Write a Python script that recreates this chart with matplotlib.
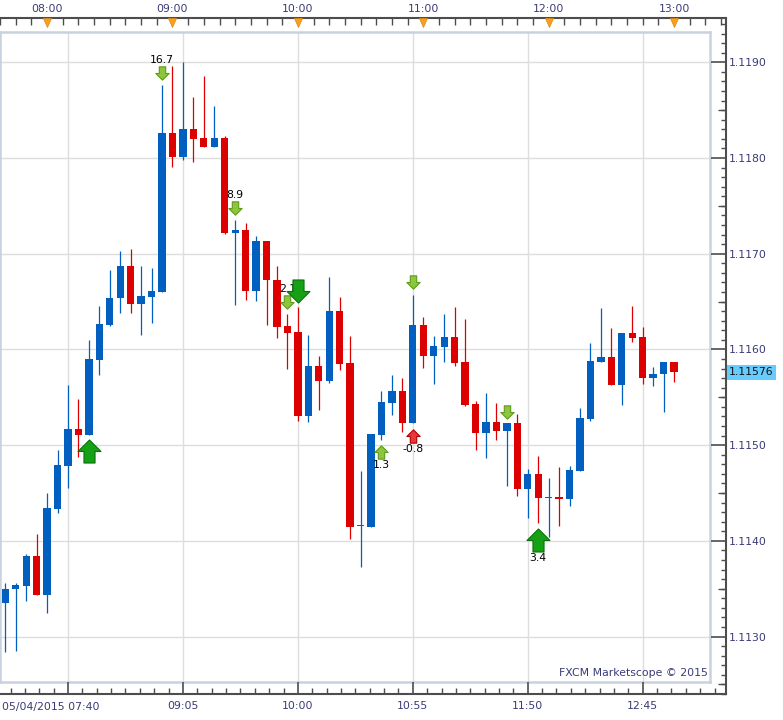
import numpy as np
import matplotlib.pyplot as plt
from matplotlib.path import Path

# EUR/USD 5 minute bars
opens = [1.11335, 1.11350, 1.11353, 1.11384, 1.11343, 1.11433, 1.11478, 1.11517, 1.11511, 1.11589,
         1.11626, 1.11654, 1.11687, 1.11648, 1.11655, 1.11660, 1.11826, 1.11801, 1.11830, 1.11821,
         1.11812, 1.11821, 1.11722, 1.11725, 1.11661, 1.11713, 1.11673, 1.11624, 1.11618, 1.11530,
         1.11583, 1.11567, 1.11640, 1.11586, 1.11415, 1.11414, 1.11511, 1.11544, 1.11557, 1.11523,
         1.11626, 1.11593, 1.11603, 1.11613, 1.11587, 1.11543, 1.11513, 1.11524, 1.11515, 1.11523,
         1.11454, 1.11470, 1.11445, 1.11446, 1.11444, 1.11473, 1.11527, 1.11587, 1.11592, 1.11563,
         1.11617, 1.11613, 1.11570, 1.11574, 1.11587]
highs = [1.11356, 1.11356, 1.11386, 1.11407, 1.11450, 1.11495, 1.11563, 1.11548, 1.11610, 1.11645,
         1.11683, 1.11703, 1.11705, 1.11687, 1.11685, 1.11876, 1.11896, 1.11900, 1.11864, 1.11886,
         1.11854, 1.11823, 1.11735, 1.11732, 1.11719, 1.11713, 1.11687, 1.11637, 1.11644, 1.11615,
         1.11593, 1.11676, 1.11655, 1.11614, 1.11473, 1.11512, 1.11557, 1.11573, 1.11570, 1.11657,
         1.11634, 1.11614, 1.11637, 1.11644, 1.11632, 1.11546, 1.11554, 1.11544, 1.11523, 1.11533,
         1.11475, 1.11489, 1.11466, 1.11477, 1.11478, 1.11539, 1.11607, 1.11643, 1.11622, 1.11617,
         1.11645, 1.11623, 1.11582, 1.11587, 1.11587]
lows = [1.11284, 1.11285, 1.11337, 1.11343, 1.11325, 1.11429, 1.11455, 1.11488, 1.11511, 1.11573,
        1.11624, 1.11638, 1.11638, 1.11615, 1.11628, 1.11660, 1.11791, 1.11798, 1.11796, 1.11812,
        1.11812, 1.11721, 1.11646, 1.11652, 1.11651, 1.11626, 1.11612, 1.11580, 1.11525, 1.11524,
        1.11537, 1.11565, 1.11578, 1.11402, 1.11373, 1.11414, 1.11505, 1.11532, 1.11514, 1.11523,
        1.11581, 1.11564, 1.11587, 1.11583, 1.11541, 1.11495, 1.11487, 1.11505, 1.11457, 1.11447,
        1.11424, 1.11419, 1.11404, 1.11416, 1.11436, 1.11473, 1.11525, 1.11587, 1.11563, 1.11542,
        1.11608, 1.11564, 1.11562, 1.11535, 1.11566]
closes = [1.11350, 1.11354, 1.11384, 1.11343, 1.11434, 1.11479, 1.11517, 1.11511, 1.11590, 1.11627,
          1.11654, 1.11687, 1.11648, 1.11656, 1.11661, 1.11826, 1.11801, 1.11830, 1.11820, 1.11812,
          1.11821, 1.11722, 1.11725, 1.11661, 1.11713, 1.11673, 1.11623, 1.11617, 1.11530, 1.11583,
          1.11567, 1.11640, 1.11585, 1.11414, 1.11416, 1.11512, 1.11545, 1.11557, 1.11523, 1.11626,
          1.11593, 1.11604, 1.11613, 1.11586, 1.11542, 1.11513, 1.11524, 1.11515, 1.11523, 1.11454,
          1.11470, 1.11445, 1.11446, 1.11444, 1.11474, 1.11528, 1.11588, 1.11592, 1.11563, 1.11617,
          1.11612, 1.11570, 1.11574, 1.11587, 1.11576]

bottom_idx = [6, 17, 28, 39, 50, 61]
bottom_labels = ["05/04/2015 07:40", "09:05", "10:00", "10:55", "11:50", "12:45"]
top_idx = [4, 16, 28, 40, 52, 64]
top_labels = ["08:00", "09:00", "10:00", "11:00", "12:00", "13:00"]
price_ticks = [1.1130, 1.1140, 1.1150, 1.1160, 1.1170, 1.1180, 1.1190]
last_price = 1.11576

# signal arrows: bar index, price, direction, size, label
sig_idx = [8, 15, 22, 27, 28, 36, 39, 39, 48, 51]
sig_price = [1.11494, 1.11889, 1.11748, 1.11650, 1.11661, 1.11493, 1.11670, 1.11510, 1.11535, 1.11401]
sig_dir = ["up", "down", "down", "down", "down", "up", "down", "up", "down", "up"]
sig_big = [True, False, False, False, True, False, False, False, False, True]
sig_red = [False, False, False, False, False, False, False, True, False, False]
sig_label = ["", "16.7", "8.9", "2.1", "", "1.3", "", "-0.8", "", "3.4"]

BLUE = "#005fbf"
RED = "#dd0000"
TXT = "#3a3a78"
AXC = "#4d4d4d"
FS = 7.8

W, H = 783, 720
fig = plt.figure(figsize=(W / 100, H / 100), dpi=100)

# inner chart area (pixels 0..710 x 32..682)
ax = fig.add_axes([0, 38 / H, 710 / W, 650 / H])
x0, x1 = -0.507, 67.44
y0, y1 = 1.112525, 1.119317
ax.set_xlim(x0, x1)
ax.set_ylim(y0, y1)
ax.set_xticks(bottom_idx)
ax.set_yticks(price_ticks)
ax.tick_params(length=0, labelbottom=False, labelleft=False)
ax.grid(True, color="#dddddd", lw=1)
ax.set_axisbelow(True)
for s in ax.spines.values():
    s.set_color("#c8d2de")
    s.set_linewidth(1.8)

x = np.arange(len(opens))
o = np.array(opens)
c = np.array(closes)
up = c >= o
cols = np.where(up, BLUE, RED)
ax.vlines(x, lows, highs, colors=cols, lw=0.9, zorder=2)
body = np.maximum(np.abs(c - o), 0.000012)
ax.bar(x, body, bottom=np.minimum(o, c), width=0.7, color=cols, lw=0, zorder=2)

# arrow markers
shape = [(0, 1), (1, 0), (0.48, 0), (0.48, -1), (-0.48, -1), (-0.48, 0), (-1, 0), (0, 1)]
arrow_up = Path(shape, closed=True)
arrow_down = Path([(a, -b) for a, b in shape], closed=True)

for i, p, d, big, red, lab in zip(sig_idx, sig_price, sig_dir, sig_big, sig_red, sig_label):
    if red:
        fc, ec = "#e8363a", "#b00000"
    elif big:
        fc, ec = "#16a016", "#0a700a"
    else:
        fc, ec = "#8cc63c", "#5f9a1c"
    m = arrow_up if d == "up" else arrow_down
    ax.scatter([i], [p], marker=m, s=275 if big else 92, c=fc, edgecolors=ec,
               linewidths=0.8, zorder=6)
    if lab:
        if d == "down":
            dy = 9
        else:
            dy = -13 if big else -9.5
        ax.annotate(lab, (i, p), xytext=(0, dy), textcoords="offset points",
                    ha="center", va="center", fontsize=FS, color="black", zorder=5)

ax.text(0.997, 0.006, "FXCM Marketscope \u00a9 2015", transform=ax.transAxes,
        ha="right", va="bottom", fontsize=FS, color=TXT)

# outer frame with the time and price scales (pixels 0..726 x 18..694)
ppx = (x1 - x0) / 710
ppy = (y1 - y0) / 650
fx = (x0, x1 + 16 * ppx)
fy = (y0 - 12 * ppy, y1 + 14 * ppy)
frame = fig.add_axes([0, 26 / H, 726 / W, 676 / H])
frame.set_facecolor("none")
frame.set_xlim(fx)
frame.set_ylim(fy)

# half-level ticks on the price scale (twinx first, it moves the frame's ticks left)
half = frame.twinx()
half.set_ylim(fy)
half.set_yticks(np.arange(1.1125, 1.1195, 0.0010))
half.tick_params(axis="y", direction="in", length=5.5, width=1, color=AXC,
                 labelright=False, left=False, right=True)
for s in half.spines.values():
    s.set_visible(False)

top = frame.twiny()

frame.spines["left"].set_visible(False)
for k in ["top", "right", "bottom"]:
    frame.spines[k].set_color(AXC)
    frame.spines[k].set_linewidth(1.5)

frame.set_xticks(bottom_idx, [""] + bottom_labels[1:])
frame.set_xticks(np.arange(6 - 1.375 * 4, fx[1], 1.375), minor=True)
frame.tick_params(axis="x", which="major", direction="in", length=8.6, width=1.2,
                  color=AXC, pad=5, labelsize=FS, labelcolor=TXT,
                  bottom=True, top=False, labelbottom=True, labeltop=False)
frame.tick_params(axis="x", which="minor", direction="in", length=4.1, width=1,
                  color=AXC, bottom=True, top=False)
fig.text(0.002, (720 - 707) / H, bottom_labels[0], ha="left", va="center",
         fontsize=FS, color=TXT)

frame.set_yticks(price_ticks, [f"{v:.4f}" for v in price_ticks])
frame.set_yticks(np.arange(1.1124, 1.11945, 0.0001), minor=True)
frame.tick_params(axis="y", which="major", direction="in", length=10.8, width=1.2,
                  color=AXC, pad=2, labelsize=FS, labelcolor=TXT,
                  left=False, right=True, labelleft=False, labelright=True)
frame.tick_params(axis="y", which="minor", direction="in", length=3.4, width=1,
                  color=AXC, left=False, right=True)

top.set_xlim(fx)
top.set_xticks(top_idx, top_labels)
top.set_xticks(np.arange(-0.5, fx[1], 1.5), minor=True)
top.tick_params(axis="x", which="major", length=0, pad=3, labelsize=FS, labelcolor=TXT)
top.tick_params(axis="x", which="minor", direction="in", length=5, width=1, color=AXC)
for s in top.spines.values():
    s.set_visible(False)

tri = Path([(-0.45, 0), (0.45, 0), (0, -1), (-0.45, 0)], closed=True)
top.plot(top_idx, [1] * len(top_idx), ls="none", marker=tri, ms=13, color="#f5a01e",
         mec="#e08a10", mew=0.5, transform=top.get_xaxis_transform(), clip_on=False)

frame.annotate(f"{last_price:.5f}", (1, last_price), xycoords=("axes fraction", "data"),
               xytext=(2.2, 0), textcoords="offset points", ha="left", va="center",
               fontsize=FS, color="#111111",
               bbox=dict(boxstyle="square,pad=0.2", fc="#66ccff", ec="none"), zorder=10)

fig.savefig("out.png", dpi=100)
